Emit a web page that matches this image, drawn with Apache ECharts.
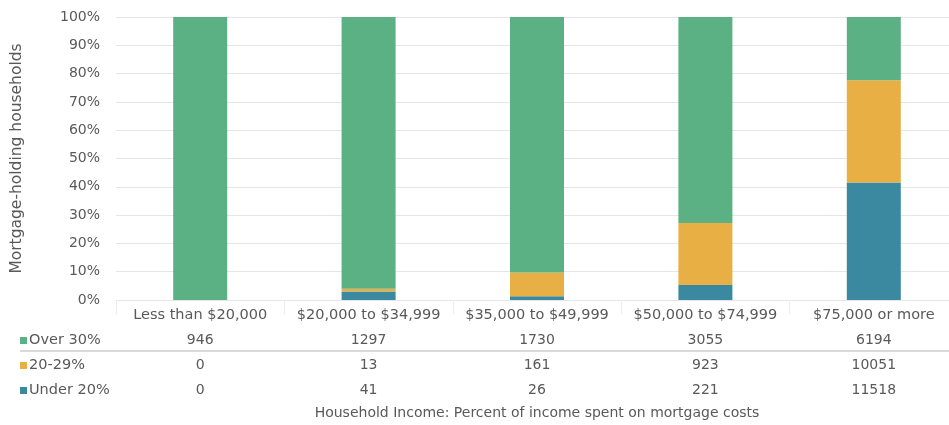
<!DOCTYPE html>
<html><head><meta charset="utf-8">
<script src="https://cdn.jsdelivr.net/npm/echarts@6/dist/echarts.min.js"></script>
<style>html,body{margin:0;padding:0;background:#fff;overflow:hidden}#c{width:961px;height:425px}</style>
</head><body><div id="c"></div>
<script>
const categories = ['Less than $20,000', '$20,000 to $34,999', '$35,000 to $49,999', '$50,000 to $74,999', '$75,000 or more'];
const seriesNames = ['Over 30%', '20-29%', 'Under 20%'];
const over30 = [946, 1297, 1730, 3055, 6194];
const pct20to29 = [0, 13, 161, 923, 10051];
const under20 = [0, 41, 26, 221, 11518];
const yTicks = [0, 10, 20, 30, 40, 50, 60, 70, 80, 90, 100];

const colors = { 'Over 30%': '#5bb184', '20-29%': '#e8b044', 'Under 20%': '#3b89a0' };
const totals = categories.map((_, i) => over30[i] + pct20to29[i] + under20[i]);
const toPct = arr => arr.map((v, i) => v / totals[i] * 100);

const FONT = 'DejaVu Sans';
const TXT = '#595959';
const FS = 14;

function tableAxis(values, offset) {
  return {
    type: 'category', data: values.map(String), position: 'bottom', offset: offset,
    gridIndex: 0,
    axisLine: { show: false }, axisTick: { show: false },
    axisLabel: { margin: 0, color: TXT, fontFamily: FONT, fontSize: FS, interval: 0 }
  };
}

const legendTops = [333, 358, 383];
const legends = seriesNames.map((n, i) => ({
  data: [{ name: n, icon: 'rect' }],
  orient: 'vertical', left: 20, top: legendTops[i], padding: 0,
  itemWidth: 7, itemHeight: 7,
  textStyle: { color: TXT, fontFamily: FONT, fontSize: 14.5, padding: [0, 0, 0, -3] },
  selectedMode: false
}));

const chart = echarts.init(document.getElementById('c'), null, { renderer: 'canvas' });
chart.setOption({
  animation: false,
  backgroundColor: '#fff',
  grid: { left: 116, right: 3, top: 17, bottom: 124, containLabel: false },
  legend: legends,
  xAxis: [
    {
      type: 'category', data: categories, position: 'bottom',
      name: 'Household Income: Percent of income spent on mortgage costs',
      nameLocation: 'middle', nameGap: 106,
      nameTextStyle: { color: TXT, fontFamily: FONT, fontSize: 14 },
      axisLine: { show: false },
      axisTick: { show: true, length: 14, lineStyle: { color: '#ececec' } },
      axisLabel: { margin: 8, color: TXT, fontFamily: FONT, fontSize: 14.5, interval: 0 }
    },
    tableAxis(over30, 33),
    tableAxis(pct20to29, 58),
    tableAxis(under20, 83)
  ],
  yAxis: {
    type: 'value', min: 0, max: 100, interval: 10,
    name: 'Mortgage-holding households', nameLocation: 'middle', nameGap: 91,
    nameTextStyle: { color: TXT, fontFamily: FONT, fontSize: 15.5 },
    axisLabel: { formatter: '{value}%', color: TXT, fontFamily: FONT, fontSize: 14, margin: 16 },
    axisLine: { show: false }, axisTick: { show: false },
    splitLine: { lineStyle: { color: '#e6e6e6', width: 1 } }
  },
  series: [
    { name: 'Under 20%', type: 'bar', stack: 't', barWidth: 54, data: toPct(under20), itemStyle: { color: colors['Under 20%'] } },
    { name: '20-29%', type: 'bar', stack: 't', barWidth: 54, data: toPct(pct20to29), itemStyle: { color: colors['20-29%'] } },
    { name: 'Over 30%', type: 'bar', stack: 't', barWidth: 54, data: toPct(over30), itemStyle: { color: colors['Over 30%'] } }
  ],
  graphic: [
    { type: 'line', shape: { x1: 20, y1: 351, x2: 949, y2: 351 }, style: { stroke: '#d9d9d9', lineWidth: 2 }, silent: true }
  ]
});
</script></body></html>
